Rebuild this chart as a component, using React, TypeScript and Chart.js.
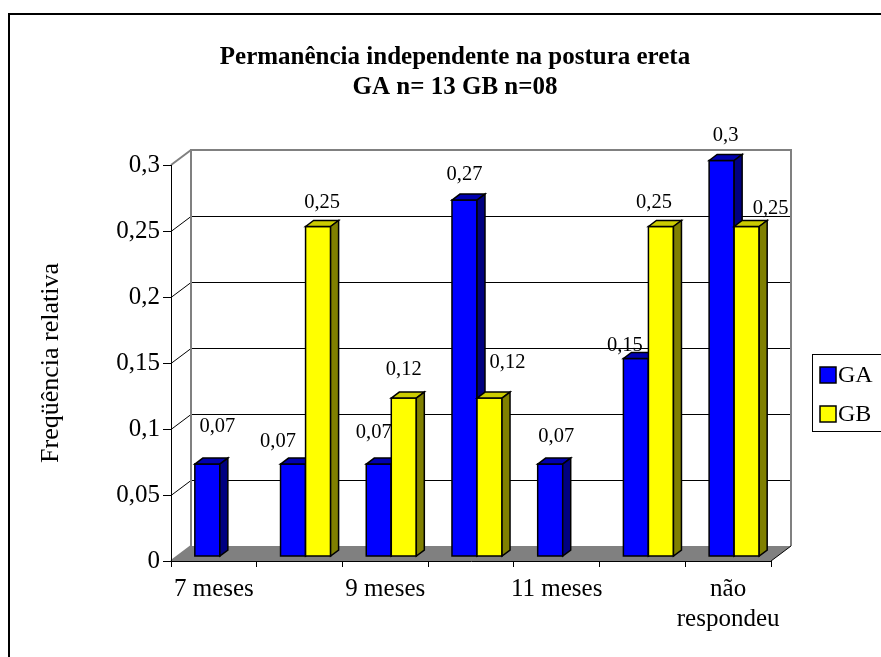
import React, { useEffect, useRef } from "react";
import { Chart, registerables } from "chart.js";

Chart.register(...registerables);

// ---- data ----
const categories: string[][] = [
  ["7 meses"],
  ["8 meses"],
  ["9 meses"],
  ["10 meses"],
  ["11 meses"],
  ["12 meses"],
  ["não", "respondeu"],
];
const seriesNames = ["GA", "GB"];
const gaValues = [0.07, 0.07, 0.07, 0.27, 0.07, 0.15, 0.3];
const gbValues = [0, 0.25, 0.12, 0.12, 0, 0.25, 0.25];
const yMin = 0;
const yMax = 0.3;
const yStep = 0.05;
const titleLines = ["Permanência independente na postura ereta", "GA n= 13 GB n=08"];
const yAxisTitle = "Freqüência relativa";

// ---- style ----
const FONT = "'Liberation Serif', 'Times New Roman', serif";
const faceColors = [
  { front: "#0000FF", top: "#0000B0", side: "#000080" },
  { front: "#FFFF00", top: "#CCCC00", side: "#808000" },
];
const DEPTH_X = 20;
const DEPTH_Y = 15;
const BAR_FRONT = 0.3;
const BAR_DEPTH = 0.4;
// label offsets relative to the top centre of each bar front face
const labelOffsets = [
  [[10, -37], [-15, -22], [-5, -31], [0, -25], [6, -27], [-11, -13], [4, -25]],
  [[0, -25], [4, -24], [0, -28], [18, -35], [0, -25], [-7, -24], [24, -18]],
];

const fmt = (v: number) => String(Math.round(v * 100) / 100).replace(".", ",");

const threeD = {
  id: "threeD",
  beforeDraw(chart: any) {
    const { ctx, chartArea: a, scales } = chart;
    const y = scales.y;
    const L = a.left, R = a.right, T = a.top, B = a.bottom;
    ctx.save();
    ctx.fillStyle = "#fff";
    ctx.fillRect(0, 0, chart.width, chart.height);
    // outer frame
    ctx.strokeStyle = "#000";
    ctx.lineWidth = 2;
    ctx.strokeRect(9, 14, chart.width + 40, chart.height + 40);
    // floor
    ctx.fillStyle = "#808080";
    ctx.beginPath();
    ctx.moveTo(L, B);
    ctx.lineTo(R, B);
    ctx.lineTo(R + DEPTH_X, B - DEPTH_Y);
    ctx.lineTo(L + DEPTH_X, B - DEPTH_Y);
    ctx.closePath();
    ctx.fill();
    // gridlines on back wall + left wall
    ctx.strokeStyle = "#000";
    ctx.lineWidth = 1;
    y.ticks.forEach((t: any) => {
      const v = t.value;
      if (v <= yMin + 1e-9 || v >= yMax - 1e-9) return;
      const yy = Math.round(y.getPixelForValue(v)) + 0.5;
      ctx.beginPath();
      ctx.moveTo(L, yy);
      ctx.lineTo(L + DEPTH_X, yy - DEPTH_Y);
      ctx.lineTo(R + DEPTH_X, yy - DEPTH_Y);
      ctx.stroke();
    });
    // wall outline
    ctx.strokeStyle = "#808080";
    ctx.lineWidth = 2;
    ctx.beginPath();
    ctx.moveTo(L + DEPTH_X, B - DEPTH_Y);
    ctx.lineTo(L + DEPTH_X, T - DEPTH_Y);
    ctx.lineTo(R + DEPTH_X, T - DEPTH_Y);
    ctx.lineTo(R + DEPTH_X, B - DEPTH_Y);
    ctx.stroke();
    ctx.beginPath();
    ctx.moveTo(L, T);
    ctx.lineTo(L + DEPTH_X, T - DEPTH_Y);
    ctx.moveTo(L, B);
    ctx.lineTo(L + DEPTH_X, B - DEPTH_Y);
    ctx.stroke();
    ctx.strokeStyle = "#000";
    ctx.lineWidth = 1;
    ctx.beginPath();
    ctx.moveTo(R, B);
    ctx.lineTo(R + DEPTH_X, B - DEPTH_Y);
    ctx.stroke();
    ctx.restore();
  },
  afterDatasetsDraw(chart: any) {
    const { ctx } = chart;
    const ox = DEPTH_X * BAR_FRONT, oy = DEPTH_Y * BAR_FRONT;
    const bx = DEPTH_X * BAR_DEPTH, by = DEPTH_Y * BAR_DEPTH;
    ctx.save();
    ctx.strokeStyle = "#000";
    ctx.lineWidth = 1.5;
    ctx.lineJoin = "miter";
    const labels: any[] = [];
    for (let i = 0; i < categories.length; i++) {
      chart.data.datasets.forEach((ds: any, d: number) => {
        const v = ds.data[i];
        if (!v) return;
        const el = chart.getDatasetMeta(d).data[i];
        const { x, y, base, width } = el.getProps(["x", "y", "base", "width"], true);
        const x0 = x - width / 2 + ox, x1 = x + width / 2 + ox;
        const t = y - oy, b = base - oy;
        const c = faceColors[d];
        // front
        ctx.fillStyle = c.front;
        ctx.beginPath();
        ctx.rect(x0, t, x1 - x0, b - t);
        ctx.fill();
        ctx.stroke();
        // top
        ctx.fillStyle = c.top;
        ctx.beginPath();
        ctx.moveTo(x0, t);
        ctx.lineTo(x0 + bx, t - by);
        ctx.lineTo(x1 + bx, t - by);
        ctx.lineTo(x1, t);
        ctx.closePath();
        ctx.fill();
        ctx.stroke();
        // side
        ctx.fillStyle = c.side;
        ctx.beginPath();
        ctx.moveTo(x1, t);
        ctx.lineTo(x1 + bx, t - by);
        ctx.lineTo(x1 + bx, b - by);
        ctx.lineTo(x1, b);
        ctx.closePath();
        ctx.fill();
        ctx.stroke();
        const off = labelOffsets[d][i];
        labels.push({ text: fmt(v), x: (x0 + x1) / 2 + off[0], y: t + off[1] });
      });
    }
    ctx.fillStyle = "#000";
    ctx.font = `20.5px ${FONT}`;
    ctx.textAlign = "center";
    ctx.textBaseline = "middle";
    labels.forEach((l) => ctx.fillText(l.text, l.x, l.y));
    ctx.restore();
  },
  afterDraw(chart: any) {
    const { ctx } = chart;
    ctx.save();
    // title
    ctx.fillStyle = "#000";
    ctx.font = `bold 25px ${FONT}`;
    ctx.textAlign = "center";
    ctx.textBaseline = "middle";
    titleLines.forEach((line, k) => ctx.fillText(line, 455, 58 + k * 30));
    // legend
    ctx.strokeStyle = "#000";
    ctx.lineWidth = 1;
    ctx.strokeRect(812.5, 354.5, 120, 77);
    ctx.font = `24px ${FONT}`;
    ctx.textAlign = "left";
    chart.data.datasets.forEach((ds: any, d: number) => {
      const cy = 375 + d * 39;
      ctx.fillStyle = faceColors[d].front;
      ctx.fillRect(820, cy - 8, 16, 16);
      ctx.lineWidth = 1.5;
      ctx.strokeRect(820, cy - 8, 16, 16);
      ctx.fillStyle = "#000";
      ctx.fillText(ds.label, 838, cy + 1);
    });
    ctx.restore();
  },
};

export default function App() {
  const canvasRef = useRef<HTMLCanvasElement | null>(null);

  useEffect(() => {
    if (!canvasRef.current) return;
    const chart = new Chart(canvasRef.current, {
      type: "bar",
      data: {
        labels: categories,
        datasets: [
          {
            label: seriesNames[0],
            data: gaValues,
            backgroundColor: "rgba(0,0,0,0)",
            borderWidth: 0,
            categoryPercentage: 0.584,
            barPercentage: 1,
          },
          {
            label: seriesNames[1],
            data: gbValues,
            backgroundColor: "rgba(0,0,0,0)",
            borderWidth: 0,
            categoryPercentage: 0.584,
            barPercentage: 1,
          },
        ],
      },
      options: {
        responsive: true,
        maintainAspectRatio: false,
        animation: false,
        events: [],
        layout: { padding: { left: 0, top: 165, right: 110, bottom: 0 } },
        plugins: {
          legend: { display: false },
          title: { display: false },
          tooltip: { enabled: false },
        },
        scales: {
          x: {
            grid: {
              display: true,
              drawOnChartArea: false,
              drawTicks: true,
              tickLength: 6,
              color: "#000",
              offset: true,
            },
            border: { display: true, color: "#000", width: 1 },
            ticks: {
              color: "#000",
              font: { family: FONT, size: 25, lineHeight: 1.2 },
              padding: 7,
              maxRotation: 0,
              autoSkip: false,
              callback: (_v: any, i: number) => (i % 2 === 0 ? categories[i] : ""),
            },
            afterFit: (s: any) => {
              s.height = 96;
            },
          },
          y: {
            min: yMin,
            max: yMax,
            ticks: {
              stepSize: yStep,
              color: "#000",
              font: { family: FONT, size: 25 },
              padding: 3,
              callback: (v: any) => fmt(Number(v)),
            },
            grid: { drawOnChartArea: false, drawTicks: true, tickLength: 8, color: "#000" },
            border: { display: true, color: "#000", width: 1 },
            title: {
              display: true,
              text: yAxisTitle,
              color: "#000",
              font: { family: FONT, size: 26 },
              padding: { top: 36, bottom: 0 },
            },
            afterFit: (s: any) => {
              s.width = 171;
            },
          },
        },
      },
      plugins: [threeD],
    } as any);
    return () => chart.destroy();
  }, []);

  return (
    <div style={{ position: "fixed", left: 0, top: 0, width: 881, height: 657, background: "#fff" }}>
      <canvas ref={canvasRef} />
    </div>
  );
}
